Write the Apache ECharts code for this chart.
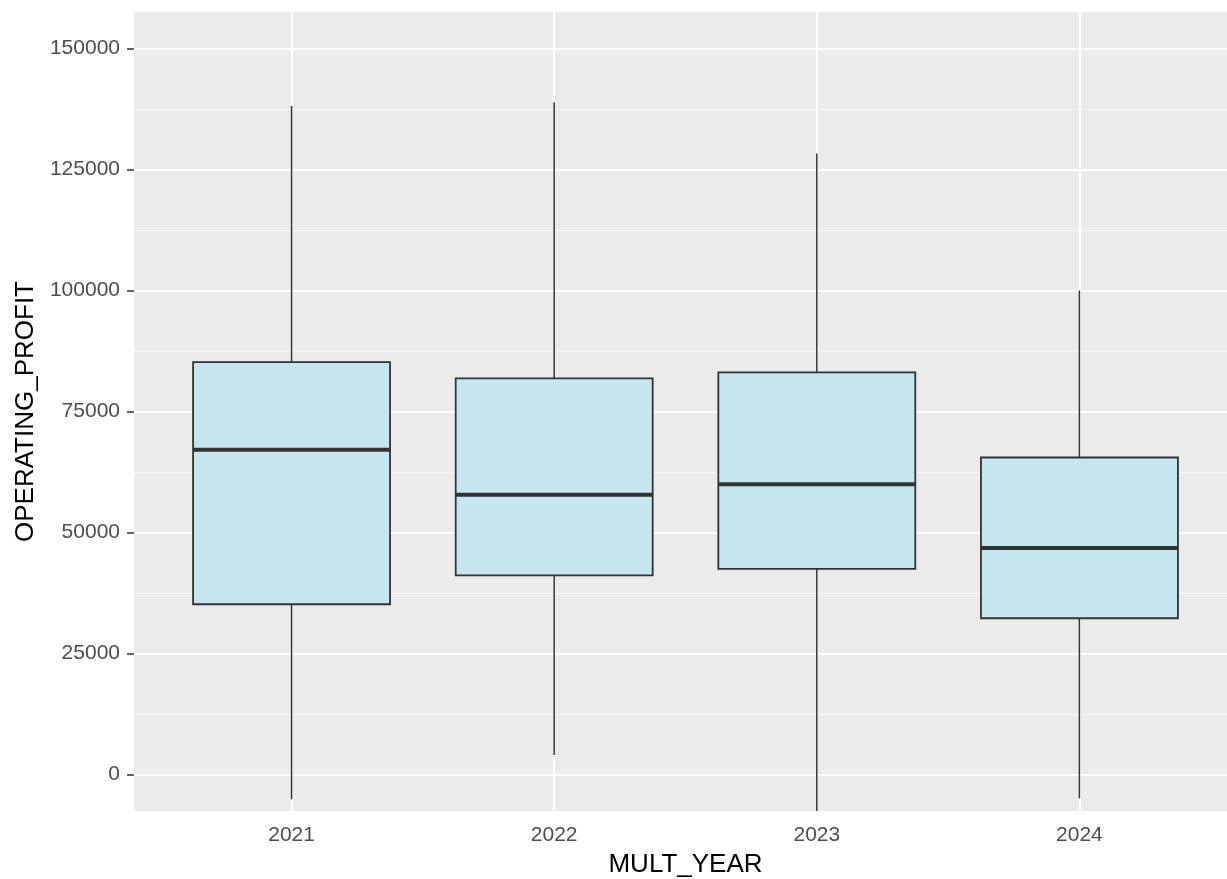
<!DOCTYPE html>
<html>
<head>
<meta charset="utf-8">
<script src="https://cdn.jsdelivr.net/npm/echarts@6/dist/echarts.min.js"></script>
<style>
html,body{margin:0;padding:0;background:#fff;}
#chart{width:1227px;height:879px;}
</style>
</head>
<body>
<div id="chart"></div>
<script>
// ---- data ----
const years = ['2021', '2022', '2023', '2024'];
const whiskerLow = [-5100, 4050, -15000, -4900];
const q1 = [35200, 41150, 42500, 32300];
const median = [67100, 57800, 60000, 46800];
const q3 = [85200, 81850, 83100, 65500];
const whiskerHigh = [138100, 138850, 128300, 100000];
const yTicks = [0, 25000, 50000, 75000, 100000, 125000, 150000];
const yMinor = [12500, 37500, 62500, 87500, 112500, 137500];

const BOX_W = 0.75;
const FONT = "'Liberation Sans', Arial, sans-serif";

const boxData = years.map((y, i) => [i + 1, whiskerLow[i], q1[i], median[i], q3[i], whiskerHigh[i]]);
const xPos = years.map((y, i) => i + 1);

const chart = echarts.init(document.getElementById('chart'), null, {renderer: 'canvas'});

const option = {
  animation: false,
  backgroundColor: '#ffffff',
  grid: {
    left: 134, width: 1103, top: 12, height: 799,
    outerBoundsMode: 'none', containLabel: false,
    show: true, backgroundColor: '#EBEBEB', borderWidth: 0
  },
  xAxis: {
    type: 'value', min: 0.4, max: 4.6,
    name: 'MULT_YEAR', nameLocation: 'middle', nameGap: 41,
    nameTextStyle: {color: '#000', fontSize: 26, fontFamily: FONT},
    axisLine: {show: false},
    axisTick: {show: true, length: 7, lineStyle: {color: '#333', width: 1.5}, customValues: xPos},
    axisLabel: {
      customValues: xPos, margin: 14,
      color: '#4D4D4D', fontSize: 21, fontFamily: FONT,
      formatter: v => years[Math.round(v) - 1]
    },
    splitLine: {show: false}
  },
  yAxis: {
    type: 'value', min: -7500, max: 157500,
    name: 'OPERATING_PROFIT', nameLocation: 'middle', nameGap: 87,
    nameTextStyle: {color: '#000', fontSize: 26, fontFamily: FONT},
    axisLine: {show: false},
    axisTick: {show: true, length: 7, lineStyle: {color: '#333', width: 1.5}, customValues: yTicks},
    axisLabel: {
      customValues: yTicks, margin: 14,
      color: '#4D4D4D', fontSize: 21, fontFamily: FONT,
      formatter: v => String(v)
    },
    splitLine: {show: false}
  },
  series: [
    {
      type: 'line', data: [], z: 1, silent: true,
      markLine: {
        z: 1, silent: true, symbol: 'none', animation: false,
        label: {show: false},
        data: [
          ...yMinor.map(v => ({yAxis: v, lineStyle: {color: '#F7F7F7', width: 1, type: 'solid'}})),
          ...yTicks.map(v => ({yAxis: v, lineStyle: {color: '#FFFFFF', width: 2, type: 'solid'}})),
          ...xPos.map(v => ({xAxis: v, lineStyle: {color: '#FFFFFF', width: 2, type: 'solid'}}))
        ]
      }
    },
    {
      type: 'custom', z: 10, clip: true,
      data: boxData,
      encode: {x: 0, y: [1, 2, 3, 4, 5]},
      renderItem: function (params, api) {
        const x = api.value(0);
        const lo = api.coord([x, api.value(1)]);
        const pq1 = api.coord([x, api.value(2)]);
        const pm = api.coord([x, api.value(3)]);
        const pq3 = api.coord([x, api.value(4)]);
        const hi = api.coord([x, api.value(5)]);
        const half = api.size([BOX_W, 0])[0] / 2;
        const stroke = '#333333';
        return {
          type: 'group',
          children: [
            {type: 'line', shape: {x1: lo[0], y1: lo[1], x2: pq1[0], y2: pq1[1]}, style: {stroke: stroke, lineWidth: 1.5}},
            {type: 'line', shape: {x1: pq3[0], y1: pq3[1], x2: hi[0], y2: hi[1]}, style: {stroke: stroke, lineWidth: 1.5}},
            {type: 'rect', shape: {x: pq3[0] - half, y: pq3[1], width: half * 2, height: pq1[1] - pq3[1]},
              style: {fill: '#C6E6EF', stroke: stroke, lineWidth: 1.8}},
            {type: 'line', shape: {x1: pm[0] - half, y1: pm[1], x2: pm[0] + half, y2: pm[1]}, style: {stroke: stroke, lineWidth: 4}}
          ]
        };
      }
    }
  ]
};
chart.setOption(option);
</script>
</body>
</html>
